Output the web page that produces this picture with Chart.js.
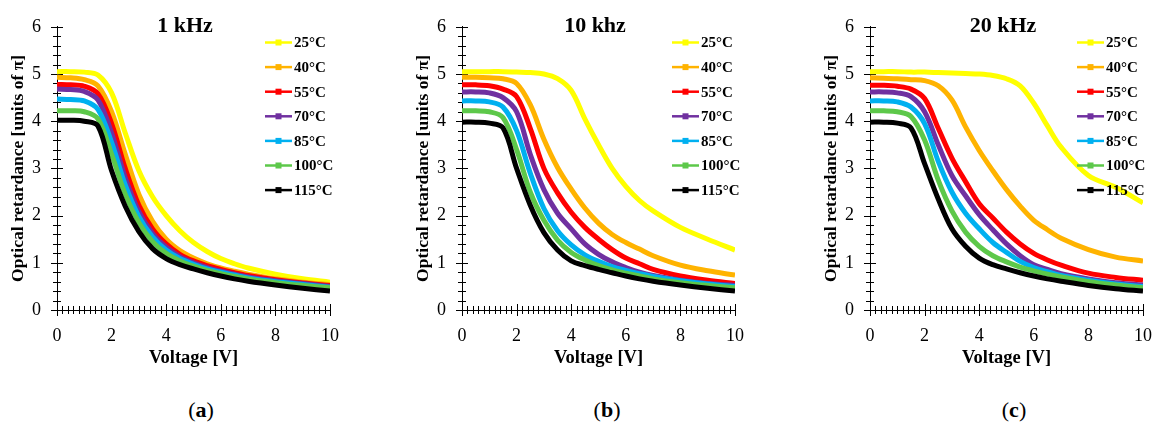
<!DOCTYPE html>
<html>
<head>
<meta charset="utf-8">
<script src="https://cdn.jsdelivr.net/npm/chart.js@4.4.1/dist/chart.umd.min.js"></script>
<style>
  body { margin: 0; background: #fff; }
  #figure { position: relative; width: 1167px; height: 432px; overflow: hidden; }
  #figure canvas { position: absolute; top: 0; }
  .caption {
    position: absolute; top: 397px; width: 60px; margin-left: -30px;
    text-align: center; font: 22px "Liberation Serif", serif; color: #000;
  }
</style>
</head>
<body>
<div id="figure">
  <canvas id="chartA" width="354" height="380" style="left:0px"></canvas>
  <canvas id="chartB" width="354" height="380" style="left:405px"></canvas>
  <canvas id="chartC" width="354" height="380" style="left:813px"></canvas>
  <div class="caption" style="left:201px">(<b>a</b>)</div>
  <div class="caption" style="left:607px">(<b>b</b>)</div>
  <div class="caption" style="left:1014px">(<b>c</b>)</div>
</div>
<script>
// voltage steps shared by every curve
const voltage = [0, 0.5, 1, 1.5, 2, 2.5, 3, 3.5, 4, 4.5, 5, 5.5, 6, 6.5, 7, 8, 9, 10];
const temperatures = ["25°C", "40°C", "55°C", "70°C", "85°C", "100°C", "115°C"];
const lineColors = ["#FFFF00", "#FFB300", "#FF0000", "#7030A0", "#00B0F0", "#5DC84A", "#000000"];
const yTicks = [0, 1, 2, 3, 4, 5, 6];
const xTicks = [0, 2, 4, 6, 8, 10];

// 1 kHz
const r1k_25 = [5.05, 5.05, 5.04, 4.98, 4.6, 3.75, 2.95, 2.4, 2.0, 1.68, 1.43, 1.24, 1.09, 0.98, 0.89, 0.76, 0.66, 0.59];
const r1k_40 = [4.93, 4.92, 4.88, 4.75, 4.2, 3.3, 2.45, 1.88, 1.5, 1.26, 1.1, 0.98, 0.89, 0.82, 0.76, 0.66, 0.59, 0.54];
const r1k_55 = [4.78, 4.77, 4.74, 4.58, 3.95, 3.0, 2.22, 1.72, 1.4, 1.18, 1.04, 0.94, 0.86, 0.79, 0.73, 0.64, 0.57, 0.52];
const r1k_70 = [4.68, 4.67, 4.63, 4.45, 3.75, 2.8, 2.08, 1.62, 1.33, 1.13, 1.0, 0.9, 0.82, 0.76, 0.7, 0.62, 0.56, 0.5];
const r1k_85 = [4.47, 4.46, 4.43, 4.25, 3.55, 2.65, 1.98, 1.55, 1.27, 1.09, 0.97, 0.87, 0.8, 0.74, 0.68, 0.6, 0.54, 0.48];
const r1k_100 = [4.22, 4.22, 4.2, 4.05, 3.3, 2.45, 1.85, 1.45, 1.2, 1.04, 0.93, 0.84, 0.77, 0.71, 0.66, 0.58, 0.52, 0.47];
const r1k_115 = [4.02, 4.02, 4.0, 3.9, 2.95, 2.2, 1.66, 1.3, 1.09, 0.96, 0.87, 0.79, 0.72, 0.66, 0.61, 0.53, 0.46, 0.4];

// 10 kHz
const r10k_25 = [5.05, 5.05, 5.05, 5.05, 5.04, 5.03, 5.0, 4.9, 4.65, 4.05, 3.5, 3.0, 2.62, 2.32, 2.1, 1.75, 1.5, 1.27];
const r10k_40 = [4.93, 4.93, 4.92, 4.9, 4.8, 4.35, 3.62, 3.02, 2.56, 2.16, 1.84, 1.6, 1.43, 1.29, 1.15, 0.95, 0.83, 0.74];
const r10k_55 = [4.77, 4.77, 4.75, 4.68, 4.52, 3.85, 3.0, 2.48, 2.07, 1.75, 1.5, 1.28, 1.1, 0.98, 0.86, 0.72, 0.63, 0.56];
const r10k_70 = [4.62, 4.62, 4.6, 4.5, 4.2, 3.3, 2.55, 2.05, 1.72, 1.4, 1.18, 1.02, 0.9, 0.8, 0.73, 0.63, 0.56, 0.52];
const r10k_85 = [4.43, 4.43, 4.41, 4.3, 3.8, 2.9, 2.15, 1.68, 1.38, 1.17, 1.03, 0.92, 0.84, 0.77, 0.71, 0.62, 0.55, 0.5];
const r10k_100 = [4.22, 4.22, 4.2, 4.08, 3.4, 2.5, 1.9, 1.48, 1.22, 1.06, 0.94, 0.85, 0.78, 0.72, 0.66, 0.58, 0.52, 0.47];
const r10k_115 = [3.98, 3.98, 3.96, 3.86, 3.0, 2.22, 1.64, 1.27, 1.04, 0.94, 0.86, 0.79, 0.72, 0.66, 0.61, 0.53, 0.46, 0.4];

// 20 kHz
const r20k_25 = [5.05, 5.05, 5.05, 5.04, 5.04, 5.03, 5.02, 5.01, 5.0, 4.97, 4.9, 4.75, 4.38, 3.9, 3.45, 2.85, 2.6, 2.27];
const r20k_40 = [4.92, 4.91, 4.9, 4.88, 4.86, 4.75, 4.45, 3.88, 3.38, 2.95, 2.55, 2.2, 1.9, 1.7, 1.52, 1.28, 1.12, 1.04];
const r20k_55 = [4.76, 4.76, 4.74, 4.68, 4.48, 3.85, 3.22, 2.72, 2.25, 1.95, 1.65, 1.4, 1.2, 1.06, 0.95, 0.78, 0.69, 0.63];
const r20k_70 = [4.62, 4.62, 4.6, 4.52, 4.2, 3.5, 2.85, 2.42, 2.02, 1.7, 1.4, 1.15, 0.96, 0.86, 0.77, 0.66, 0.58, 0.53];
const r20k_85 = [4.43, 4.43, 4.41, 4.3, 3.95, 3.15, 2.5, 2.05, 1.72, 1.43, 1.22, 1.03, 0.9, 0.81, 0.73, 0.63, 0.55, 0.5];
const r20k_100 = [4.22, 4.22, 4.2, 4.1, 3.6, 2.75, 2.1, 1.65, 1.35, 1.15, 1.02, 0.91, 0.83, 0.76, 0.7, 0.6, 0.53, 0.47];
const r20k_115 = [3.98, 3.98, 3.96, 3.86, 3.1, 2.35, 1.72, 1.35, 1.1, 0.96, 0.87, 0.79, 0.72, 0.66, 0.61, 0.52, 0.45, 0.4];

const serif = "'Liberation Serif', 'Times New Roman', serif";
Chart.defaults.font.family = serif;
Chart.defaults.color = "#000";

// minor/major ticks crossing the axes, panel title and the legend
const panelExtras = {
  id: "panelExtras",
  beforeDatasetsDraw(chart) {
    const { ctx, chartArea: area, scales } = chart;
    ctx.save();
    ctx.strokeStyle = "#000";
    ctx.lineWidth = 1;
    ctx.beginPath();
    for (let i = 0; i <= 50; i++) {
      const px = Math.round(scales.x.getPixelForValue(i / 5)) + 0.5;
      const len = i % 10 === 0 ? 6 : 4;
      ctx.moveTo(px, area.bottom - len);
      ctx.lineTo(px, area.bottom + len);
    }
    for (let i = 0; i <= 30; i++) {
      const py = Math.round(scales.y.getPixelForValue(i / 5)) + 0.5;
      const len = i % 5 === 0 ? 6 : 4;
      ctx.moveTo(area.left - len, py);
      ctx.lineTo(area.left + len, py);
    }
    ctx.stroke();
    ctx.restore();
  },
  afterDatasetsDraw(chart, args, opts) {
    const { ctx, chartArea: area } = chart;
    ctx.save();
    ctx.fillStyle = "#000";
    ctx.textBaseline = "middle";
    ctx.textAlign = "center";
    ctx.font = "bold 22px " + serif;
    ctx.fillText(opts.title, area.left + opts.titleX, 26);

    ctx.font = "bold 15px " + serif;
    ctx.textAlign = "left";
    chart.data.datasets.forEach((ds, i) => {
      const y = 42.5 + i * 24.6;
      const x0 = area.left + opts.legendX;
      ctx.strokeStyle = ds.borderColor;
      ctx.lineWidth = 2.5;
      ctx.beginPath();
      ctx.moveTo(x0, y);
      ctx.lineTo(x0 + 27, y);
      ctx.stroke();
      ctx.fillStyle = ds.borderColor;
      ctx.fillRect(x0 + 10.5, y - 3, 6, 6);
      ctx.fillStyle = "#000";
      ctx.fillText(ds.label, x0 + 29, y + 1);
    });
    ctx.restore();
  },
};

const panels = [
  { id: "chartA", title: "1 kHz", padRight: 9, titleX: 128, legendX: 208,
    series: [r1k_25, r1k_40, r1k_55, r1k_70, r1k_85, r1k_100, r1k_115] },
  { id: "chartB", title: "10 khz", padRight: 7, titleX: 133, legendX: 210,
    series: [r10k_25, r10k_40, r10k_55, r10k_70, r10k_85, r10k_100, r10k_115] },
  { id: "chartC", title: "20 kHz", padRight: 9, titleX: 133, legendX: 207,
    series: [r20k_25, r20k_40, r20k_55, r20k_70, r20k_85, r20k_100, r20k_115] },
];

panels.forEach((p) => {
  const datasets = p.series.map((values, i) => ({
    label: temperatures[i],
    data: values.map((v, j) => ({ x: voltage[j], y: v })),
    borderColor: lineColors[i],
    backgroundColor: lineColors[i],
    borderWidth: 5,
    pointRadius: 0,
    showLine: true,
    tension: 0.35,
    order: 6 - i,
  }));

  new Chart(document.getElementById(p.id), {
    type: "scatter",
    data: { datasets },
    plugins: [panelExtras],
    options: {
      responsive: false,
      animation: false,
      layout: { padding: { top: 24, right: p.padRight, left: 0, bottom: 0 } },
      plugins: {
        legend: { display: false },
        tooltip: { enabled: false },
        panelExtras: { title: p.title, titleX: p.titleX, legendX: p.legendX },
      },
      scales: {
        x: {
          type: "linear",
          min: 0,
          max: 10,
          afterFit: (s) => { s.height = 70; },
          afterBuildTicks: (s) => { s.ticks = xTicks.map((v) => ({ value: v })); },
          ticks: { font: { size: 18 }, padding: 15, color: "#000" },
          grid: { drawOnChartArea: false, drawTicks: false },
          border: { color: "#000", width: 1 },
          title: {
            display: true,
            text: "Voltage [V]",
            font: { size: 18.5, weight: "bold" },
            padding: { top: 0, bottom: 11 },
            color: "#000",
          },
        },
        y: {
          type: "linear",
          min: 0,
          max: 6,
          afterFit: (s) => { s.width = 57; },
          afterBuildTicks: (s) => { s.ticks = yTicks.map((v) => ({ value: v })); },
          ticks: { font: { size: 18 }, padding: 16, color: "#000" },
          grid: { drawOnChartArea: false, drawTicks: false },
          border: { color: "#000", width: 1 },
          title: {
            display: true,
            text: "Optical retardance [units of π]",
            font: { size: 17.5, weight: "bold" },
            padding: { top: 7.5, bottom: 0 },
            color: "#000",
          },
        },
      },
    },
  });
});
</script>
</body>
</html>
